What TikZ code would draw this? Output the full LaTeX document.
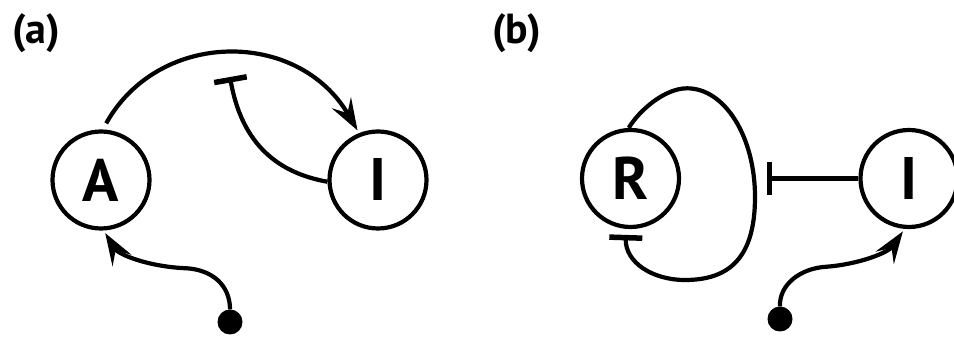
\documentclass[tikz,border=0pt]{standalone}
\usepackage{fontspec}
\setmainfont{PT Sans}
\usetikzlibrary{arrows.meta}
\begin{document}
\begin{tikzpicture}[x=1pt,y=1pt,
  species/.style={circle,draw,line width=4.2pt,minimum size=97pt,inner sep=0pt,font=\fontsize{60}{64}\selectfont\bfseries},
  src/.style={circle,fill,minimum size=25pt,inner sep=0pt},
  conn/.style={line width=4.2pt},
  act/.style={conn,-{Stealth[length=32pt,width=22pt,inset=12pt]}},
  inh/.style={conn,-{Bar[width=33pt,line width=5.5pt]}},
  lab/.style={anchor=north west,inner sep=0pt,font=\fontsize{42}{46}\selectfont\bfseries}]
\useasboundingbox (0,0) rectangle (954,337);
\node[lab] (la) at (12,324) {(a)};
\node[lab] (lb) at (492,324) {(b)};
\node[species] (A) at (101,157) {A};
\node[species] (Ia) at (378,157) {I};
\node[species] (R) at (630.5,158.5) {R};
\node[species] (Ib) at (909,158.5) {I};
\node[src] (sa) at (230,15) {};
\node[src] (sb) at (780,18) {};
\coordinate (ta) at (230,260);
\coordinate (tb) at (766.5,158.5);
% panel (a)
\draw[act, shorten <=7pt, shorten >=3pt] (A.88) .. controls (159,308) and (298.6,308) .. (Ia.112);
\draw[inh] (Ia.182) .. controls (279.7,163.8) and (242.2,191) .. (ta);
\draw[act, shorten >=3pt] (sa.north) .. controls (230,52) and (212,67) .. (187,68.7) .. controls (150,70) and (118.6,82) .. (A.-87);
% panel (b)
\draw[inh, shorten >=6pt] (R.92) .. controls (639.5,227) and (665,248.7) .. (687,248.7) .. controls (725,248.7) and (755,200) .. (755,140) .. controls (755,80) and (730,57) .. (685,57) .. controls (652,57) and (625,75) .. (R.265);
\draw[inh] (Ib.west) -- (tb);
\draw[act, shorten >=3pt] (sb.north) .. controls (779,52) and (800,69) .. (827,70.3) .. controls (860,73) and (888.4,84.5) .. (Ib.265);
\end{tikzpicture}
\end{document}
